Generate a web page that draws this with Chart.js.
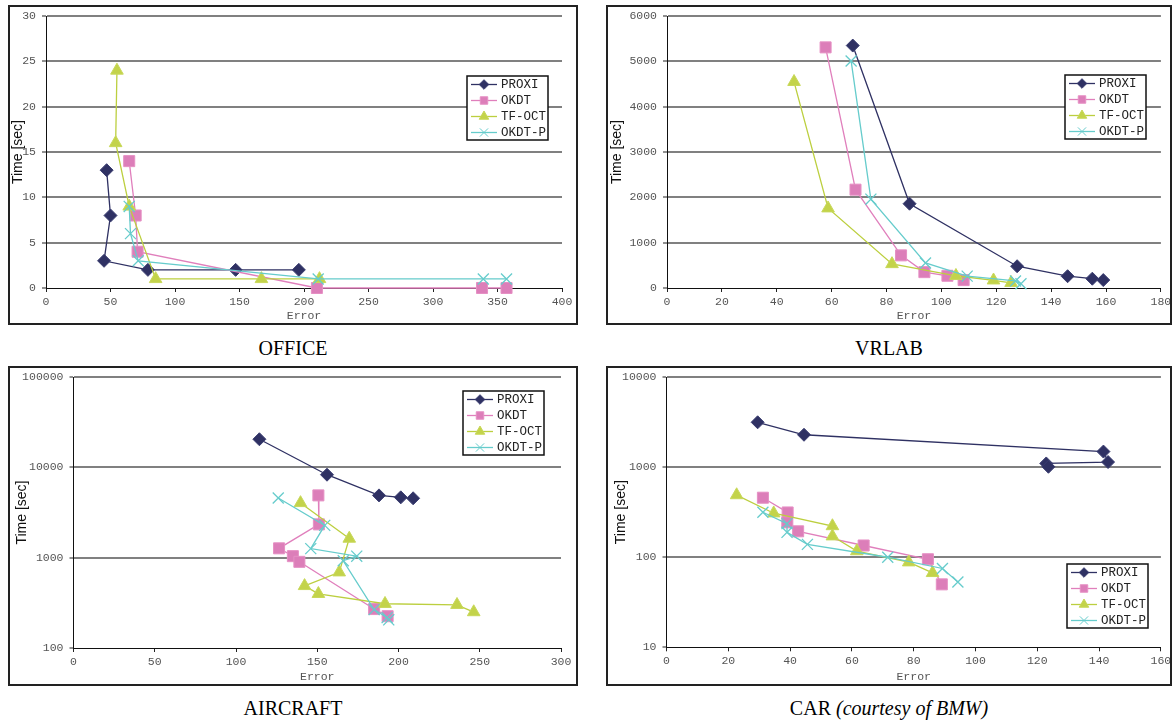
<!DOCTYPE html>
<html>
<head>
<meta charset="utf-8">
<script src="https://cdn.jsdelivr.net/npm/chart.js@4.4.1/dist/chart.umd.min.js"></script>
<style>
  html, body { margin: 0; padding: 0; background: #fff; }
  body { width: 1174px; height: 725px; position: relative; overflow: hidden; }
  .panel { position: absolute; box-sizing: border-box; border: 2px solid #222; background: #fff; }
  .panel canvas { display: block; }
  .cap { position: absolute; text-align: center; font-family: "Liberation Serif", "Times New Roman", serif;
         font-size: 20px; line-height: 22px; height: 22px; color: #000; }
</style>
</head>
<body>
<div class="panel" id="p1" style="left:8px; top:5px; width:570px; height:320px;"><canvas id="c1"></canvas></div>
<div class="panel" id="p2" style="left:606px; top:5px; width:566px; height:320px;"><canvas id="c2"></canvas></div>
<div class="panel" id="p3" style="left:8px; top:366px; width:570px; height:320px;"><canvas id="c3"></canvas></div>
<div class="panel" id="p4" style="left:606px; top:366px; width:566px; height:320px;"><canvas id="c4"></canvas></div>
<div class="cap" style="left:8px; top:337px; width:570px;">OFFICE</div>
<div class="cap" style="left:606px; top:337px; width:566px;">VRLAB</div>
<div class="cap" style="left:8px; top:697px; width:570px;">AIRCRAFT</div>
<div class="cap" style="left:606px; top:697px; width:566px;">CAR <i>(courtesy of BMW)</i></div>
<script>
// ---------------- DATA ----------------
const SERIES_NAMES = ['PROXI', 'OKDT', 'TF-OCT', 'OKDT-P'];
const CAPTIONS = ['OFFICE', 'VRLAB', 'AIRCRAFT', 'CAR (courtesy of BMW)'];

// OFFICE
const OFFICE_PROXI_ERR = [47, 50, 45, 79, 147, 196];
const OFFICE_PROXI_TIME = [13, 8, 3, 2, 2, 2];
const OFFICE_OKDT_ERR = [64.5, 69.5, 71, 210, 338, 357];
const OFFICE_OKDT_TIME = [14, 8, 4, 0, 0, 0];
const OFFICE_TFOCT_ERR = [55, 54, 64.5, 85, 167, 212];
const OFFICE_TFOCT_TIME = [24, 16, 9, 1, 1, 1];
const OFFICE_OKDTP_ERR = [64.5, 65.5, 71.5, 211, 339, 357];
const OFFICE_OKDTP_TIME = [9, 6, 3, 1, 1, 1];
const OFFICE_X_TICKS = [0, 50, 100, 150, 200, 250, 300, 350, 400];
const OFFICE_Y_TICKS = [0, 5, 10, 15, 20, 25, 30];

// VRLAB
const VRLAB_PROXI_ERR = [67.7, 88.4, 127.6, 146, 155, 159];
const VRLAB_PROXI_TIME = [5350, 1860, 480, 260, 205, 175];
const VRLAB_OKDT_ERR = [57.8, 68.7, 85.3, 93.8, 102.2, 108.1];
const VRLAB_OKDT_TIME = [5310, 2170, 720, 350, 270, 175];
const VRLAB_TFOCT_ERR = [46.3, 58.7, 82, 105.3, 119, 125.4];
const VRLAB_TFOCT_TIME = [4550, 1760, 530, 270, 170, 115];
const VRLAB_OKDTP_ERR = [67.1, 74.3, 94.2, 109.4, 127, 129];
const VRLAB_OKDTP_TIME = [5010, 1960, 553, 262, 155, 95];
const VRLAB_X_TICKS = [0, 20, 40, 60, 80, 100, 120, 140, 160, 180];
const VRLAB_Y_TICKS = [0, 1000, 2000, 3000, 4000, 5000, 6000];

// AIRCRAFT
const AIR_PROXI_ERR = [114.4, 156, 188, 201.4, 209];
const AIR_PROXI_TIME = [20500, 8300, 4900, 4660, 4550];
const AIR_OKDT_ERR = [150.7, 151, 126.5, 135, 139, 185, 193.3];
const AIR_OKDT_TIME = [4900, 2340, 1270, 1040, 900, 270, 225];
const AIR_TFOCT_ERR = [139.7, 169.7, 163.5, 142.2, 150.7, 191.7, 236, 246.3];
const AIR_TFOCT_TIME = [4040, 1630, 690, 487, 398, 309, 301, 250];
const AIR_OKDTP_ERR = [126, 154.6, 146, 174.3, 166, 185, 193, 194];
const AIR_OKDTP_TIME = [4580, 2280, 1260, 1040, 925, 266, 217, 205];
const AIR_X_TICKS = [0, 50, 100, 150, 200, 250, 300];
const AIR_Y_TICKS = [100, 1000, 10000, 100000];

// CAR
const CAR_PROXI_ERR = [29.5, 44.5, 141.4, 142.9, 122.9, 123.6];
const CAR_PROXI_TIME = [3150, 2290, 1490, 1140, 1100, 1010];
const CAR_OKDT_ERR = [31.2, 39.2, 39.1, 42.6, 63.8, 84.6, 89.1];
const CAR_OKDT_TIME = [458, 314, 244, 194, 135, 95, 50];
const CAR_TFOCT_ERR = [22.7, 34.7, 53.7, 53.7, 61.6, 78.4, 86.1];
const CAR_TFOCT_TIME = [490, 308, 222, 171, 117, 88, 67];
const CAR_OKDTP_ERR = [31.2, 39, 39, 45.6, 71.6, 89.3, 94.3];
const CAR_OKDTP_TIME = [316, 236, 189, 139, 100, 75, 53];
const CAR_X_TICKS = [0, 20, 40, 60, 80, 100, 120, 140, 160];
const CAR_Y_TICKS = [10, 100, 1000, 10000];

// ---------------- STYLE ----------------
const STYLES = [
  { line: '#2f3163', fill: '#2f3163', border: '#3a3d70', pointStyle: 'rectRot', radius: 6.5, lr: 4.8 },
  { line: '#e07fbc', fill: '#dc7eb9', border: '#e690c4', pointStyle: 'rect', radius: 7.8, lr: 5.3 },
  { line: '#bccf3f', fill: '#c3d34a', border: '#c8d85a', pointStyle: 'triangle', radius: 7.3, lr: 5.5 },
  { line: '#66cccc', fill: 'rgba(0,0,0,0)', border: '#66cccc', pointStyle: 'crossRot', radius: 7.8, lr: 5.8 }
];
const MONO = '"Courier New", "Liberation Mono", monospace';

function pts(xs, ys) { return xs.map((x, i) => ({ x: x, y: ys[i] })); }

const legendPlugin = {
  id: 'boxLegend',
  afterDatasetsDraw(chart, args, opts) {
    const ctx = chart.ctx;
    const x = opts.x, y = opts.y, w = 81, h = 64;
    ctx.save();
    ctx.fillStyle = '#fff';
    ctx.fillRect(x, y, w, h);
    ctx.strokeStyle = '#111';
    ctx.lineWidth = 1.5;
    ctx.strokeRect(x, y, w, h);
    chart.data.datasets.forEach((ds, i) => {
      const st = STYLES[i];
      const cy = y + 8.5 + i * 16;
      ctx.strokeStyle = st.line;
      ctx.lineWidth = 1.3;
      ctx.beginPath();
      ctx.moveTo(x + 4, cy);
      ctx.lineTo(x + 30, cy);
      ctx.stroke();
      ctx.fillStyle = st.fill;
      ctx.strokeStyle = st.border;
      ctx.lineWidth = 1;
      Chart.helpers.drawPoint(ctx, { pointStyle: st.pointStyle, radius: st.lr, rotation: 0, borderWidth: 1 }, x + 17, cy);
      ctx.fillStyle = '#222';
      ctx.font = '12.5px ' + MONO;
      ctx.textBaseline = 'middle';
      ctx.textAlign = 'left';
      ctx.fillText(ds.label, x + 34, cy + 0.5);
    });
    ctx.restore();
  }
};

function makeChart(id, w, h, lay, series, xTicks, yTicks, logY, legendPos) {
  const cv = document.getElementById(id);
  cv.width = w; cv.height = h;
  cv.style.width = w + 'px'; cv.style.height = h + 'px';
  const datasets = series.map((s, i) => {
    const st = STYLES[i];
    return {
      label: SERIES_NAMES[i],
      data: pts(s[0], s[1]),
      showLine: true,
      borderColor: st.line,
      borderWidth: 1.3,
      backgroundColor: st.fill,
      pointBackgroundColor: st.fill,
      pointBorderColor: st.border,
      pointBorderWidth: st.pointStyle === 'crossRot' ? 1.3 : 1,
      pointStyle: st.pointStyle,
      pointRadius: st.radius,
      pointHoverRadius: st.radius,
      order: 10 - i,
      clip: false,
      tension: 0
    };
  });
  const tickFont = { family: MONO, size: 11.5 };
  const yMin = yTicks[0], yMax = yTicks[yTicks.length - 1];
  return new Chart(cv, {
    type: 'scatter',
    data: { datasets: datasets },
    plugins: [legendPlugin],
    options: {
      responsive: false,
      animation: false,
      events: [],
      layout: { padding: { left: 0, top: lay.top, right: w - lay.right, bottom: 0 } },
      plugins: {
        legend: { display: false },
        tooltip: { enabled: false },
        boxLegend: { x: legendPos[0], y: legendPos[1] }
      },
      scales: {
        x: {
          type: 'linear',
          min: xTicks[0], max: xTicks[xTicks.length - 1],
          afterBuildTicks: (sc) => { sc.ticks = xTicks.map(v => ({ value: v })); },
          afterFit: (sc) => { sc.height = h - lay.bottom; sc.paddingLeft = 0; sc.paddingRight = 0; sc.paddingTop = 0; sc.paddingBottom = 0; },
          grid: { drawOnChartArea: false, drawTicks: true, tickLength: 4, tickColor: '#222', tickWidth: 1 },
          border: { display: true, color: '#111', width: 1 },
          ticks: { font: tickFont, color: '#555', padding: 3, maxRotation: 0, autoSkip: false, callback: (v) => String(v) },
          title: { display: true, text: 'Error', font: { family: MONO, size: 11.5 }, color: '#555', padding: { top: 0, bottom: 0 } }
        },
        y: {
          type: logY ? 'logarithmic' : 'linear',
          min: yMin, max: yMax,
          afterBuildTicks: (sc) => { sc.ticks = yTicks.map(v => ({ value: v })); },
          afterFit: (sc) => { sc.width = lay.left; sc.paddingLeft = 0; sc.paddingRight = 0; sc.paddingTop = 0; sc.paddingBottom = 0; },
          grid: {
            drawOnChartArea: true, drawTicks: true, tickLength: 4, tickColor: '#222', tickWidth: 1,
            lineWidth: 2,
            color: (c) => (c.tick && c.tick.value === yMin) ? 'rgba(0,0,0,0)' : '#808080'
          },
          border: { display: true, color: '#111', width: 1 },
          ticks: { font: tickFont, color: '#555', padding: 6, autoSkip: false, callback: (v) => String(v) },
          title: { display: true, text: 'Time [sec]', font: { family: '"Liberation Sans", Arial, sans-serif', size: 14 }, color: '#111', padding: { top: lay.tpad, bottom: 0 } }
        }
      }
    }
  });
}

// canvas origin offsets: panel left/top + 2px border
makeChart('c1', 566, 316, { left: 36, right: 552, top: 7, bottom: 281, tpad: 0 },
  [[OFFICE_PROXI_ERR, OFFICE_PROXI_TIME], [OFFICE_OKDT_ERR, OFFICE_OKDT_TIME],
   [OFFICE_TFOCT_ERR, OFFICE_TFOCT_TIME], [OFFICE_OKDTP_ERR, OFFICE_OKDTP_TIME]],
  OFFICE_X_TICKS, OFFICE_Y_TICKS, false, [467 - 10, 76 - 7]);

makeChart('c2', 562, 316, { left: 59, right: 553, top: 7, bottom: 281, tpad: 1 },
  [[VRLAB_PROXI_ERR, VRLAB_PROXI_TIME], [VRLAB_OKDT_ERR, VRLAB_OKDT_TIME],
   [VRLAB_TFOCT_ERR, VRLAB_TFOCT_TIME], [VRLAB_OKDTP_ERR, VRLAB_OKDTP_TIME]],
  VRLAB_X_TICKS, VRLAB_Y_TICKS, false, [1065 - 608, 75 - 7]);

makeChart('c3', 566, 316, { left: 63.5, right: 551, top: 6.7, bottom: 280, tpad: 4 },
  [[AIR_PROXI_ERR, AIR_PROXI_TIME], [AIR_OKDT_ERR, AIR_OKDT_TIME],
   [AIR_TFOCT_ERR, AIR_TFOCT_TIME], [AIR_OKDTP_ERR, AIR_OKDTP_TIME]],
  AIR_X_TICKS, AIR_Y_TICKS, true, [463 - 10, 391 - 368]);

makeChart('c4', 562, 316, { left: 58.5, right: 553, top: 6, bottom: 279.3, tpad: 5 },
  [[CAR_PROXI_ERR, CAR_PROXI_TIME], [CAR_OKDT_ERR, CAR_OKDT_TIME],
   [CAR_TFOCT_ERR, CAR_TFOCT_TIME], [CAR_OKDTP_ERR, CAR_OKDTP_TIME]],
  CAR_X_TICKS, CAR_Y_TICKS, true, [1067 - 608, 564 - 368]);
</script>
</body>
</html>
